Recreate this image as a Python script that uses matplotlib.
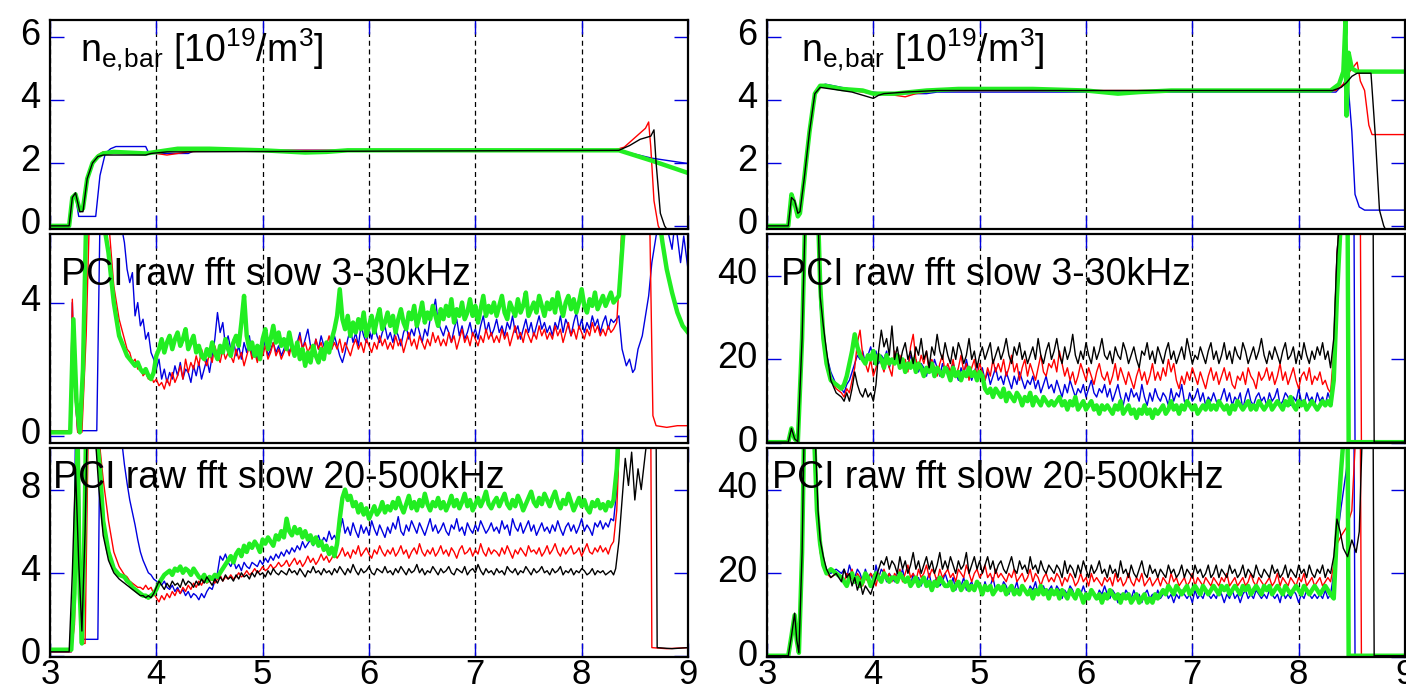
import numpy as np
import matplotlib.pyplot as plt
from matplotlib.transforms import ScaledTranslation

plt.rcParams['font.family'] = ['Liberation Sans', 'DejaVu Sans']
plt.rcParams['mathtext.fontset'] = 'custom'
plt.rcParams['mathtext.rm'] = 'Liberation Sans'
plt.rcParams['mathtext.it'] = 'Liberation Sans'

BLUE, RED, GREEN, BLACK = '#0000e0', '#ff0000', '#22ee22', '#000000'

# ---------------- top panels: line-averaged density (t, n) breakpoints
tl_blue = [(3.0, 0), (3.18, 0), (3.21, 0.9), (3.24, 0.95), (3.27, 0.3), (3.43, 0.3), (3.47, 1.6),
           (3.52, 2.3), (3.57, 2.45), (3.62, 2.52), (3.9, 2.52), (3.93, 2.3), (4.3, 2.3), (4.35, 2.38),
           (5.0, 2.4), (8.35, 2.4), (8.66, 2.15), (9.0, 1.98)]
tl_red = [(3.0, 0), (3.18, 0), (3.21, 0.9), (3.24, 1.0), (3.28, 0.45), (3.31, 0.5), (3.35, 1.5),
          (3.4, 2.0), (3.45, 2.25), (3.5, 2.35), (3.6, 2.35), (4.0, 2.3), (4.1, 2.25), (4.3, 2.35),
          (4.5, 2.4), (8.3, 2.4), (8.4, 2.5), (8.5, 2.8), (8.6, 3.1), (8.63, 3.3), (8.65, 2.5),
          (8.68, 0.8), (8.72, 0.0), (8.75, -0.2), (9.0, -0.3)]
tl_green = [(3.0, 0), (3.18, 0), (3.21, 0.9), (3.24, 1.0), (3.28, 0.5), (3.31, 0.55), (3.35, 1.5),
            (3.4, 2.0), (3.45, 2.2), (3.5, 2.3), (3.6, 2.35), (3.9, 2.3), (4.0, 2.35), (4.2, 2.45),
            (4.5, 2.45), (5.0, 2.4), (5.4, 2.33), (5.6, 2.35), (5.8, 2.4), (8.35, 2.4), (8.66, 2.07),
            (9.0, 1.68)]
tl_black = [(3.0, 0), (3.18, 0), (3.21, 0.9), (3.24, 1.05), (3.28, 0.45), (3.31, 0.45), (3.35, 1.5),
            (3.4, 2.0), (3.45, 2.2), (3.5, 2.25), (3.9, 2.25), (3.95, 2.3), (4.1, 2.35), (8.35, 2.4),
            (8.45, 2.55), (8.55, 2.75), (8.65, 2.85), (8.68, 3.05), (8.7, 2.0), (8.74, 0.4),
            (8.78, 0.0), (8.82, -0.2), (9.0, -0.3)]

tr_blue = [(3.0, 0), (3.2, 0), (3.23, 0.9), (3.26, 0.8), (3.29, 0.4), (3.31, 0.45), (3.35, 1.5),
           (3.4, 3.0), (3.45, 4.2), (3.5, 4.45), (3.55, 4.5), (3.7, 4.4), (3.85, 4.3), (4.0, 4.25),
           (4.1, 4.2), (4.5, 4.2), (4.6, 4.25), (8.35, 4.25), (8.42, 4.5), (8.46, 4.7), (8.5, 3.0),
           (8.53, 1.0), (8.57, 0.6), (8.62, 0.5), (9.0, 0.5)]
tr_red = [(3.0, 0), (3.2, 0), (3.23, 0.9), (3.26, 0.8), (3.29, 0.4), (3.31, 0.45), (3.35, 1.5),
          (3.4, 3.0), (3.45, 4.2), (3.5, 4.4), (3.6, 4.4), (3.8, 4.3), (4.0, 4.2), (4.2, 4.15),
          (4.3, 4.1), (4.4, 4.2), (4.6, 4.3), (8.35, 4.3), (8.42, 4.5), (8.48, 4.9), (8.55, 5.2),
          (8.58, 4.6), (8.62, 4.3), (8.66, 3.2), (8.69, 2.9), (9.0, 2.9)]
tr_green = [(3.0, 0), (3.2, 0), (3.23, 1.0), (3.26, 0.7), (3.29, 0.3), (3.31, 0.4), (3.35, 1.5),
            (3.4, 3.0), (3.45, 4.2), (3.5, 4.45), (3.55, 4.45), (3.7, 4.35), (3.9, 4.3), (4.0, 4.2),
            (4.2, 4.2), (4.5, 4.3), (4.8, 4.35), (5.5, 4.35), (6.0, 4.3), (6.3, 4.2), (6.5, 4.25),
            (6.8, 4.3), (8.3, 4.3), (8.38, 4.5), (8.42, 4.9), (8.44, 6.5), (8.45, 3.5), (8.47, 5.5),
            (8.5, 5.0), (8.55, 4.9), (9.0, 4.9)]
tr_black = [(3.0, 0), (3.2, 0), (3.23, 0.9), (3.26, 0.8), (3.29, 0.4), (3.31, 0.45), (3.35, 1.5),
            (3.4, 3.0), (3.45, 4.2), (3.5, 4.4), (3.6, 4.35), (3.7, 4.3), (3.8, 4.25), (3.9, 4.15),
            (4.0, 4.05), (4.05, 4.15), (4.1, 4.2), (4.3, 4.25), (4.6, 4.3), (8.32, 4.3), (8.4, 4.4),
            (8.45, 4.55), (8.5, 4.75), (8.55, 4.85), (8.68, 4.85), (8.72, 2.9), (8.76, 0.5),
            (8.8, 0.0), (8.83, -0.2), (9.0, -0.3)]

# ---------------- noisy PCI traces: head (t, v), body read every 0.025 from t=3.70, tail (t, v)
ml_blue_head = [(3.0, 0.15), (3.19, 0.15), (3.21, 4.0), (3.23, 1.5), (3.26, 0.15), (3.44, 0.15),
                (3.47, 6.5), (3.66, 6.5)]
ml_blue_body = [5.8, 5.0, 4.6, 4.9, 3.6, 4.0, 3.3, 3.5, 2.9, 3.1, 2.5, 2.3, 2.0, 2.3, 1.7, 2.0, 1.6, 1.9, 1.7, 2.1,
                1.8, 2.2, 1.7, 2.0, 1.9, 1.6, 2.1, 1.8, 2.2, 1.7, 2.0, 2.3, 1.9, 2.4, 2.9, 3.7, 3.1, 3.4, 2.7, 3.0,
                2.6, 2.9, 2.4, 2.7, 2.3, 2.8, 2.5, 3.0, 2.4, 2.6, 2.3, 2.7, 2.5, 2.9, 2.4, 2.6, 2.8, 2.5, 2.7, 2.4,
                2.6, 2.9, 2.5, 2.7, 2.4, 2.8, 3.1, 2.6, 2.9, 3.2, 2.7, 2.5, 2.9, 2.6, 3.0, 2.7, 2.5, 2.8, 2.6, 3.0,
                2.7, 2.4, 2.2, 2.5, 2.9, 3.2, 2.8, 3.1, 2.7, 3.3, 3.0, 2.8, 3.2, 2.9, 3.4, 3.0, 2.8, 3.1, 3.3, 2.9,
                3.1, 2.8, 3.2, 3.0, 2.7, 3.1, 3.3, 2.9, 3.2, 3.0, 3.4, 3.1, 2.8, 3.2, 3.0, 3.5, 3.7, 4.1, 3.4, 3.2,
                3.0, 3.3, 3.1, 2.8, 3.2, 3.5, 3.0, 3.3, 2.9, 3.1, 3.4, 3.0, 3.2, 2.9, 3.3, 3.6, 3.1, 3.4, 3.0, 3.2,
                3.5, 3.1, 3.3, 3.0, 3.4, 3.2, 3.6, 3.1, 3.3, 2.9, 3.2, 3.5, 3.1, 3.4, 3.0, 3.3, 3.6, 3.2, 3.4, 3.1,
                3.3, 3.0, 3.4, 3.2, 3.6, 3.1, 3.5, 3.3, 3.0, 3.4, 3.7, 3.2, 3.5, 3.1, 3.4, 3.2, 3.6, 3.3, 3.5, 3.1,
                3.4, 3.6, 3.2, 3.5, 3.4]
ml_blue_tail = [(8.35, 3.6), (8.38, 2.6), (8.42, 2.1), (8.45, 2.3), (8.48, 1.9), (8.5, 2.0),
                (8.53, 2.6), (8.57, 3.0), (8.6, 3.6), (8.63, 4.2), (8.66, 5.2), (8.7, 6.0),
                (8.73, 6.5), (8.8, 6.3), (8.85, 5.6), (8.88, 6.5), (8.93, 5.2), (8.96, 6.0), (9.0, 5.0)]

ml_red_head = [(3.0, 0.15), (3.19, 0.15), (3.21, 4.1), (3.23, 1.5), (3.26, 0.1), (3.3, 0.1),
               (3.34, 3.0), (3.37, 6.5), (3.55, 6.5), (3.6, 4.5), (3.65, 3.5)]
ml_red_body = [2.9, 2.6, 2.5, 2.2, 2.3, 2.0, 2.1, 1.8, 1.9, 1.7, 1.8, 1.6, 1.7, 1.5, 1.6, 1.4, 1.7, 1.5, 1.9, 1.6,
               1.8, 2.1, 1.7, 2.3, 1.9, 2.2, 2.0, 2.4, 2.1, 2.6, 2.3, 2.1, 2.5, 2.2, 2.7, 2.4, 2.2, 2.6, 2.3, 2.5,
               2.4, 2.2, 2.6, 2.3, 2.5, 2.1, 2.4, 2.7, 2.3, 2.5, 2.2, 2.6, 2.4, 2.7, 2.3, 2.5, 2.8, 2.4, 2.6, 2.3,
               2.5, 2.7, 2.4, 2.8, 2.5, 2.6, 3.0, 2.6, 2.8, 2.5, 2.7, 2.4, 2.9, 2.6, 2.8, 2.5, 2.7, 3.0, 2.6, 2.8,
               2.6, 2.9, 2.5, 2.8, 2.6, 2.4, 2.7, 2.9, 2.6, 2.8, 2.5, 2.9, 2.7, 2.5, 2.8, 2.6, 3.0, 2.7, 2.9, 2.6,
               2.8, 2.6, 3.0, 2.7, 2.9, 2.5, 2.8, 3.1, 2.7, 2.9, 2.6, 3.0, 2.8, 2.6, 2.9, 2.7, 3.1, 2.8, 3.0, 2.7,
               2.9, 2.7, 3.1, 2.8, 3.0, 2.6, 2.9, 3.2, 2.8, 3.0, 2.7, 3.1, 2.9, 2.7, 3.0, 2.8, 3.2, 2.9, 3.1, 2.8,
               3.0, 2.8, 3.2, 2.9, 3.1, 2.7, 3.0, 3.3, 2.9, 3.1, 2.8, 3.2, 3.0, 2.8, 3.1, 2.9, 3.3, 3.0, 3.2, 2.9,
               3.1, 2.9, 3.3, 3.0, 3.2, 2.8, 3.1, 3.4, 3.0, 3.2, 2.9, 3.3, 3.1, 2.9, 3.2, 3.0, 3.4, 3.1, 3.3, 3.0,
               3.2, 3.0, 3.3, 3.1, 3.2]
ml_red_tail = [(8.33, 3.4), (8.36, 5.0), (8.38, 6.5), (8.64, 6.5), (8.67, 0.6), (8.7, 0.3),
               (8.8, 0.25), (8.9, 0.3), (9.0, 0.3)]

ml_green_head = [(3.0, 0.1), (3.19, 0.1), (3.22, 3.5), (3.25, 1.0), (3.28, 0.1), (3.31, 2.0),
                 (3.34, 6.5), (3.5, 6.5), (3.55, 5.5), (3.6, 4.0), (3.65, 3.0)]
ml_green_body = [2.6, 2.4, 2.3, 2.2, 2.1, 2.2, 2.0, 1.9, 2.0, 1.8, 1.7, 1.9, 2.4, 2.6, 2.9, 2.5, 2.8, 3.0, 2.6, 2.9,
                 3.1, 2.7, 2.9, 3.2, 2.6, 2.8, 3.0, 2.5, 2.7, 2.4, 2.3, 2.6, 2.4, 2.8, 2.5, 2.3, 2.7, 2.5, 2.9, 2.6,
                 2.4, 2.8, 3.0, 2.7, 3.4, 4.2, 3.0, 2.6, 2.8, 2.4, 2.7, 2.3, 2.9, 3.2, 2.6, 2.9, 3.3, 2.8, 3.1, 2.7,
                 2.9, 2.6, 3.1, 2.7, 2.4, 2.8, 2.3, 2.6, 2.1, 2.5, 2.2, 2.7, 2.4, 2.2, 2.6, 2.3, 2.8, 2.5, 2.9, 3.2,
                 3.6, 4.4, 3.5, 3.2, 3.6, 3.0, 3.4, 3.1, 3.5, 3.2, 3.7, 3.0, 3.3, 3.6, 3.1, 3.5, 3.8, 3.2, 3.4, 3.7,
                 3.3, 3.6, 3.1, 3.5, 3.8, 3.4, 3.2, 3.7, 3.5, 3.9, 3.3, 3.6, 4.0, 3.4, 3.7, 3.5, 3.9, 3.6, 3.3, 3.8,
                 3.5, 3.9, 3.6, 4.1, 3.4, 3.8, 3.6, 4.0, 3.5, 3.7, 4.1, 3.6, 3.9, 3.4, 3.8, 4.2, 3.6, 3.9, 3.7, 4.0,
                 3.6, 3.9, 4.2, 3.7, 3.5, 4.0, 3.8, 3.6, 4.1, 3.7, 3.9, 4.3, 3.6, 3.8, 4.0, 3.7, 4.2, 3.9, 3.6, 4.0,
                 3.8, 4.1, 3.7, 4.3, 3.9, 3.6, 4.0, 4.2, 3.8, 4.1, 3.7, 4.0, 4.4, 3.9, 3.7, 4.1, 3.9, 4.3, 3.8, 4.0,
                 4.2, 3.9, 4.1, 4.3, 4.0]
ml_green_tail = [(8.35, 4.2), (8.39, 6.0), (8.42, 6.5), (8.73, 6.5), (8.76, 5.8), (8.8, 5.0),
                 (8.85, 4.3), (8.9, 3.7), (8.95, 3.3), (9.0, 3.1)]

mr_blue_head = [(3.0, 0.2), (3.2, 0.2), (3.23, 3.0), (3.26, 1.0), (3.29, 0.3), (3.33, 25), (3.36, 55),
                (3.48, 55), (3.5, 33), (3.53, 24), (3.56, 21), (3.6, 17), (3.65, 14)]
mr_blue_body = [13, 12, 14, 15, 17, 19, 21, 20, 22, 19, 21, 23, 20, 22, 19, 21, 20, 22, 18, 20,
                19, 21, 18, 20, 17, 19, 21, 18, 20, 17, 19, 18, 16, 19, 17, 20, 18, 16, 19, 17,
                18, 16, 19, 17, 15, 18, 16, 20, 17, 15, 17, 19, 16, 18, 15, 17, 14, 16, 18, 15,
                16, 14, 17, 15, 13, 16, 14, 17, 15, 13, 15, 14, 16, 13, 15, 12, 14, 16, 13, 14,
                12, 15, 13, 11, 14, 12, 15, 13, 11, 13, 12, 14, 11, 13, 15, 12, 11, 13, 12, 14,
                11, 13, 10, 12, 14, 11, 9, 12, 10, 13, 11, 12, 10, 14, 11, 9, 12, 10, 13, 11,
                10, 12, 11, 9, 13, 10, 12, 11, 14, 10, 9, 12, 10, 11, 13, 10, 12, 9, 11, 10,
                12, 10, 9, 11, 13, 10, 12, 9, 11, 10, 12, 8, 11, 13, 10, 9, 11, 12, 10, 11,
                9, 12, 10, 11, 13, 9, 10, 12, 11, 9, 11, 10, 13, 10, 9, 12, 10, 11, 9, 12,
                10, 11, 9, 12, 10]
mr_blue_tail = [(8.33, 20), (8.36, 45), (8.39, 55), (8.52, 55), (8.53, 0.2), (9.0, 0.2)]

mr_red_head = [(3.0, 0.2), (3.2, 0.2), (3.23, 3.0), (3.26, 1.0), (3.29, 0.3), (3.33, 25), (3.36, 55),
               (3.48, 55), (3.5, 35), (3.53, 26), (3.56, 20), (3.6, 15), (3.65, 13)]
mr_red_body = [12, 11, 13, 12, 15, 18, 24, 27, 21, 19, 17, 20, 16, 18, 21, 19, 17, 20, 18, 16,
               22, 19, 21, 18, 20, 17, 23, 26, 20, 18, 21, 19, 22, 17, 20, 18, 16, 19, 21, 17,
               19, 17, 20, 16, 18, 21, 17, 19, 15, 18, 20, 16, 19, 17, 15, 18, 16, 20, 17, 19,
               17, 20, 16, 18, 21, 17, 19, 15, 18, 20, 16, 19, 17, 15, 18, 21, 17, 16, 19, 18,
               20, 17, 22, 19, 16, 18, 15, 17, 14, 16, 19, 17, 15, 18, 16, 14, 17, 19, 16, 15,
               17, 14, 16, 19, 15, 18, 16, 14, 17, 15, 13, 16, 18, 15, 17, 14, 16, 19, 15, 17,
               15, 18, 16, 20, 17, 19, 15, 13, 16, 14, 17, 15, 18, 16, 14, 17, 15, 13, 16, 18,
               15, 17, 14, 16, 18, 15, 17, 14, 13, 16, 15, 17, 14, 18, 16, 15, 13, 17, 15, 16,
               18, 15, 17, 14, 16, 19, 15, 17, 14, 16, 18, 15, 13, 16, 17, 15, 18, 14, 16, 15,
               17, 14, 15, 13, 12]
mr_red_tail = [(8.33, 22), (8.36, 45), (8.39, 55), (8.58, 55), (8.59, 0.2), (9.0, 0.2)]

mr_green_head = [(3.0, 0.2), (3.2, 0.2), (3.23, 3.5), (3.26, 1.0), (3.29, 0.3), (3.33, 25), (3.36, 55),
                 (3.48, 55), (3.5, 38), (3.53, 25), (3.56, 19), (3.6, 15), (3.65, 14)]
mr_green_body = [13, 14, 16, 19, 22, 26, 23, 21, 20, 19, 21, 20, 22, 19, 21, 20, 18, 21, 19, 20,
                 19, 21, 18, 20, 17, 19, 18, 20, 17, 19, 18, 16, 18, 17, 19, 16, 18, 17, 16, 18,
                 17, 15, 18, 16, 17, 15, 17, 16, 18, 16, 17, 15, 17, 16, 13, 12, 13, 11, 13, 12,
                 11, 13, 10, 12, 11, 10, 12, 11, 9, 11, 10, 12, 9, 11, 10, 9, 11, 10, 9, 10,
                 9, 10, 11, 9, 10, 8, 10, 9, 11, 8, 9, 10, 8, 9, 10, 8, 9, 7, 9, 8,
                 9, 8, 7, 9, 8, 10, 7, 8, 9, 7, 8, 6, 8, 7, 9, 7, 8, 6, 8, 7,
                 8, 9, 7, 8, 10, 8, 9, 7, 9, 8, 10, 9, 8, 9, 7, 8, 9, 8, 10, 8,
                 9, 8, 10, 9, 8, 9, 7, 9, 8, 10, 9, 8, 9, 10, 8, 9, 8, 10, 9, 8,
                 9, 10, 8, 9, 10, 9, 8, 10, 9, 11, 9, 8, 10, 9, 10, 8, 9, 10, 9, 8,
                 9, 10, 9, 10, 9]
mr_green_tail = [(8.33, 15), (8.36, 35), (8.4, 55), (8.46, 55), (8.47, 0.2), (9.0, 0.2)]

mr_black_head = [(3.0, 0.2), (3.2, 0.2), (3.23, 3.5), (3.26, 1.0), (3.29, 0.3), (3.33, 25), (3.36, 55),
                 (3.48, 55), (3.5, 35), (3.53, 28), (3.56, 22), (3.6, 15), (3.65, 12)]
mr_black_body = [11, 10, 12, 10, 13, 17, 14, 12, 11, 13, 11, 12, 10, 14, 22, 27, 23, 25, 21, 28,
                 20, 23, 19, 22, 24, 20, 22, 19, 23, 21, 25, 20, 22, 18, 23, 21, 26, 22, 20, 24,
                 21, 19, 23, 20, 24, 22, 19, 21, 25, 20, 22, 18, 21, 23, 20, 22, 24, 19, 21, 23,
                 20, 22, 25, 21, 19, 23, 21, 24, 20, 22, 19, 21, 23, 20, 25, 21, 19, 22, 24, 20,
                 22, 25, 21, 19, 23, 20, 22, 26, 21, 19, 22, 20, 24, 21, 19, 23, 20, 22, 25, 21,
                 20, 22, 19, 23, 21, 20, 24, 22, 19, 21, 23, 20, 18, 22, 21, 24, 20, 22, 19, 23,
                 21, 19, 22, 24, 20, 22, 19, 21, 23, 20, 25, 22, 19, 21, 20, 23, 21, 19, 22, 24,
                 20, 22, 19, 21, 24, 20, 22, 19, 23, 21, 20, 24, 22, 19, 21, 23, 20, 22, 25, 21,
                 19, 22, 20, 23, 21, 19, 22, 24, 20, 21, 23, 19, 22, 20, 24, 21, 19, 22, 20, 23,
                 21, 24, 20, 22, 18]
mr_black_tail = [(8.33, 25), (8.36, 45), (8.39, 55), (8.7, 55), (8.71, 0.2), (9.0, 0.2)]

bl_blue_head = [(3.0, 0.2), (3.2, 0.2), (3.22, 2.0), (3.24, 11), (3.27, 11), (3.29, 0.8), (3.45, 0.8),
                (3.47, 11), (3.66, 11)]
bl_blue_body = [9.2, 8.3, 7.5, 6.9, 6.3, 5.6, 5.0, 4.6, 4.3, 4.0, 3.9, 3.7, 3.6, 3.5, 3.4, 3.6, 3.3, 3.2, 3.4, 3.1,
                3.3, 3.0, 3.2, 2.9, 3.1, 2.8, 3.0, 2.9, 2.7, 3.0, 2.8, 3.1, 3.3, 3.2, 3.6, 4.0, 4.8, 4.6, 4.9, 4.5,
                4.3, 4.6, 4.2, 4.4, 4.1, 4.5, 4.3, 4.2, 4.5, 4.4, 4.3, 4.6, 4.4, 4.7, 4.5, 4.8, 4.6, 4.9, 4.7, 5.0,
                4.8, 5.1, 4.9, 5.2, 5.0, 5.3, 5.1, 5.5, 5.2, 5.4, 5.6, 5.3, 5.5, 5.8, 5.4, 5.7, 5.5, 6.0, 5.6, 5.8,
                5.5, 6.0, 6.6, 5.9, 6.2, 5.8, 6.4, 6.0, 5.7, 6.3, 5.9, 6.2, 5.8, 6.5, 6.1, 5.8, 6.3, 6.0, 5.7, 6.2,
                5.9, 6.4, 6.1, 6.7, 6.0, 5.8, 6.3, 6.0, 6.5, 6.2, 5.9, 6.4, 6.1, 5.8, 6.2, 6.6, 6.0, 6.3, 5.9, 6.1,
                6.4, 6.0, 5.8, 6.3, 6.1, 6.6, 6.0, 6.2, 5.8, 6.4, 6.1, 5.9, 6.3, 6.0, 6.5, 6.2, 5.9, 6.1, 6.4, 6.0,
                6.2, 5.9, 6.5, 6.1, 6.3, 5.8, 6.6, 6.2, 6.0, 6.4, 5.9, 6.2, 6.5, 6.0, 6.3, 5.8, 6.1, 6.4, 6.0, 6.2,
                5.9, 6.3, 6.0, 6.5, 6.1, 5.8, 6.2, 6.4, 6.0, 6.3, 5.9, 6.2, 6.6, 6.0, 6.3, 6.1, 5.8, 6.4, 6.2, 6.5,
                6.1, 6.4, 6.2, 6.6, 6.5]
bl_blue_tail = [(8.33, 8.0), (8.36, 11), (9.0, 11)]

bl_red_head = [(3.0, 0.2), (3.2, 0.2), (3.23, 1.5), (3.26, 8.0), (3.28, 3.0), (3.3, 0.6), (3.33, 0.6),
               (3.36, 11), (3.45, 11), (3.5, 8.5), (3.55, 6.5), (3.6, 5.0), (3.65, 4.3)]
bl_red_body = [3.9, 3.8, 3.6, 3.5, 3.4, 3.3, 3.3, 3.2, 3.4, 3.2, 3.3, 3.0, 2.8, 2.6, 2.9, 2.7, 3.0, 2.8, 3.1, 2.9,
               3.2, 3.0, 3.3, 3.1, 3.4, 3.2, 3.5, 3.3, 3.6, 3.4, 3.7, 3.5, 3.6, 3.8, 3.5, 3.7, 3.9, 3.6, 3.8, 3.7,
               3.9, 3.7, 3.8, 4.0, 3.8, 3.9, 4.1, 3.9, 4.0, 4.2, 4.0, 4.1, 4.3, 4.1, 4.2, 4.4, 4.2, 4.3, 4.5, 4.3,
               4.4, 4.6, 4.3, 4.5, 4.7, 4.4, 4.6, 4.3, 4.5, 4.8, 4.5, 4.7, 4.4, 4.6, 4.9, 4.6, 4.8, 4.5, 4.7, 5.0,
               4.7, 4.9, 5.2, 4.8, 5.0, 4.7, 5.1, 4.9, 5.3, 4.8, 5.0, 5.2, 4.9, 4.7, 5.1, 4.9, 5.3, 5.0, 4.8, 5.1,
               4.9, 5.2, 4.8, 5.0, 5.3, 4.9, 5.1, 4.7, 5.0, 5.2, 4.9, 5.4, 5.0, 4.8, 5.1, 4.9, 5.2, 4.8, 5.0, 5.3,
               4.9, 5.1, 4.8, 5.2, 5.0, 4.7, 5.1, 5.3, 4.9, 5.0, 5.2, 4.8, 5.1, 4.9, 5.4, 5.0, 4.8, 5.2, 4.9, 5.1,
               5.0, 4.8, 5.2, 4.9, 5.3, 5.0, 4.7, 5.1, 4.9, 5.2, 5.0, 4.8, 5.3, 5.0, 5.1, 4.9, 5.2, 4.8, 5.0, 5.3,
               4.9, 5.1, 5.4, 5.0, 4.8, 5.2, 4.9, 5.1, 5.3, 4.9, 5.0, 5.2, 4.8, 5.1, 5.4, 5.0, 4.9, 5.2, 5.0, 5.3,
               5.0, 5.2, 4.9, 5.3, 5.5]
bl_red_tail = [(8.33, 7.0), (8.36, 11), (8.65, 11), (8.66, 0.4), (8.8, 0.35), (9.0, 0.4)]

bl_green_head = [(3.0, 0.3), (3.2, 0.3), (3.23, 3.0), (3.26, 10.5), (3.28, 3.0), (3.3, 0.6), (3.32, 5.0),
                 (3.34, 11), (3.43, 11), (3.47, 9.0), (3.5, 6.5), (3.55, 5.0), (3.6, 4.2), (3.65, 3.9)]
bl_green_body = [3.8, 3.6, 3.5, 3.3, 3.2, 3.1, 3.0, 2.9, 2.9, 2.8, 2.9, 3.0, 3.2, 3.5, 3.7, 3.9, 4.0, 4.1, 3.9, 4.2,
                 4.1, 4.3, 4.0, 4.2, 4.1, 3.9, 4.2, 4.0, 3.8, 3.7, 3.9, 3.6, 3.8, 3.7, 3.9, 3.8, 4.0, 4.2, 4.4, 4.6,
                 4.8, 4.5, 4.9, 5.1, 4.8, 5.3, 5.0, 5.4, 5.2, 5.5, 5.3, 5.0, 5.6, 5.4, 5.7, 5.5, 5.3, 5.8, 5.6, 6.0,
                 5.7, 6.6, 6.0, 5.8, 6.2, 5.9, 6.1, 5.7, 6.0, 5.6, 5.8, 5.4, 5.7, 5.3, 5.5, 5.1, 5.3, 4.9, 5.2, 4.8,
                 5.4, 6.6, 7.6, 8.0, 7.5, 7.7, 7.2, 7.4, 6.9, 7.3, 6.8, 7.1, 6.6, 6.9, 7.2, 6.8, 7.0, 7.4, 6.9, 7.2,
                 7.0, 7.4, 7.1, 7.6, 7.2, 6.9, 7.3, 7.7, 7.1, 7.4, 7.0, 7.5, 7.2, 7.8, 7.3, 7.0, 7.4, 7.2, 7.6, 7.1,
                 7.4, 7.0, 7.3, 7.7, 7.2, 7.5, 7.1, 7.4, 7.8, 7.2, 7.5, 7.0, 7.3, 7.6, 7.2, 7.5, 7.9, 7.3, 7.1, 7.4,
                 7.6, 7.2, 7.5, 7.8, 7.3, 7.1, 7.5, 7.2, 7.7, 7.4, 7.0, 7.3, 7.6, 7.9, 7.4, 7.2, 7.6, 7.3, 7.8, 7.5,
                 7.2, 7.6, 7.9, 7.4, 7.1, 7.5, 7.3, 7.8, 7.4, 7.0, 7.3, 7.6, 7.2, 7.5, 7.1, 6.9, 7.4, 7.2, 7.5, 7.1,
                 7.3, 7.0, 7.4, 7.2, 7.5]
bl_green_tail = [(8.33, 9.0), (8.35, 11), (9.0, 11)]

bl_black_head = [(3.0, 0.2), (3.18, 0.2), (3.21, 4.0), (3.24, 9.0), (3.27, 4.5), (3.3, 1.2), (3.33, 6.0),
                 (3.35, 11), (3.42, 11), (3.46, 8.0), (3.5, 5.8), (3.55, 4.6), (3.6, 4.0), (3.65, 3.7)]
bl_black_body = [3.5, 3.4, 3.3, 3.2, 3.1, 3.0, 2.9, 2.9, 2.8, 2.9, 2.8, 3.0, 3.3, 3.6, 3.4, 3.2, 3.5, 3.3, 3.6, 3.4,
                 3.5, 3.3, 3.7, 3.4, 3.6, 3.5, 3.3, 3.6, 3.4, 3.7, 3.5, 3.8, 3.6, 3.4, 3.7, 3.5, 3.8, 3.6, 3.9, 3.7,
                 3.8, 3.6, 3.9, 3.7, 4.0, 3.8, 3.9, 3.7, 4.0, 3.8, 4.1, 3.9, 4.0, 3.8, 4.1, 3.9, 4.2, 4.0, 3.9, 4.1,
                 4.0, 3.9, 4.2, 4.0, 4.1, 3.9, 4.2, 4.0, 3.8, 4.1, 4.0, 4.3, 4.0, 4.1, 3.9, 4.2, 4.0, 4.1, 3.9, 4.2,
                 4.0, 4.3, 4.1, 3.9, 4.2, 4.0, 4.4, 4.1, 3.9, 4.2, 4.0, 4.1, 4.3, 4.0, 3.9, 4.2, 4.1, 4.0, 4.3, 4.0,
                 4.1, 3.9, 4.2, 4.0, 4.3, 4.1, 3.9, 4.2, 4.0, 4.1, 4.4, 4.0, 4.2, 3.9, 4.1, 4.0, 4.3, 4.1, 3.9, 4.2,
                 4.0, 4.1, 4.3, 4.0, 3.9, 4.2, 4.1, 4.0, 4.3, 3.9, 4.1, 4.2, 4.0, 4.4, 4.1, 3.9, 4.2, 4.0, 4.1, 3.9,
                 4.2, 4.0, 4.1, 3.9, 4.3, 4.1, 4.0, 4.2, 3.9, 4.1, 4.0, 4.3, 4.1, 3.9, 4.2, 4.0, 4.1, 4.3, 4.0, 4.1,
                 3.9, 4.2, 4.0, 4.1, 4.3, 3.9, 4.1, 4.0, 4.2, 3.9, 4.1, 4.0, 4.2, 4.1, 3.9, 4.0, 4.2, 3.9, 4.1, 4.0,
                 4.1, 3.9, 4.0, 4.1, 3.9]
bl_black_tail = [(8.32, 4.2), (8.35, 5.5), (8.38, 7.5), (8.41, 9.5), (8.44, 8.2), (8.47, 9.8),
                 (8.5, 7.5), (8.53, 9.0), (8.56, 8.0), (8.6, 9.8), (8.63, 11), (8.7, 11), (8.71, 0.4),
                 (8.85, 0.35), (9.0, 0.4)]

br_blue_head = [(3.0, 0.3), (3.2, 0.3), (3.23, 4), (3.26, 8), (3.28, 4), (3.3, 1), (3.33, 25), (3.35, 55),
                (3.45, 55), (3.48, 33), (3.5, 26), (3.53, 23), (3.56, 21), (3.6, 20), (3.65, 21)]
br_blue_body = [20, 21, 19, 22, 20, 19, 21, 20, 18, 21, 19, 20, 18, 22, 19, 21, 20, 18, 20, 19,
                18, 20, 19, 21, 18, 19, 17, 20, 18, 19, 17, 19, 18, 20, 17, 18, 19, 17, 18, 20,
                18, 17, 19, 16, 18, 17, 19, 16, 17, 18, 16, 18, 17, 15, 18, 16, 17, 19, 16, 17,
                16, 18, 17, 15, 17, 16, 18, 15, 17, 16, 15, 17, 16, 18, 15, 16, 17, 15, 16, 17,
                15, 17, 16, 14, 16, 15, 17, 16, 14, 16, 15, 17, 15, 14, 16, 15, 14, 16, 15, 17,
                15, 14, 16, 15, 13, 15, 14, 16, 15, 14, 16, 14, 15, 13, 15, 16, 14, 15, 14, 16,
                14, 15, 16, 14, 15, 13, 15, 14, 16, 15, 14, 15, 13, 16, 14, 15, 14, 16, 15, 14,
                15, 14, 16, 15, 13, 15, 14, 16, 14, 15, 13, 15, 16, 14, 15, 14, 16, 15, 14, 15,
                14, 16, 15, 14, 15, 13, 16, 14, 15, 14, 16, 15, 13, 15, 14, 16, 15, 14, 15, 14,
                15, 14, 16, 14, 15]
br_blue_tail = [(8.33, 20), (8.36, 28), (8.4, 36), (8.45, 45), (8.48, 55), (8.52, 55), (8.53, 0.3),
                (9.0, 0.3)]

br_red_head = [(3.0, 0.3), (3.2, 0.3), (3.23, 4), (3.26, 8), (3.28, 4), (3.3, 1), (3.33, 25), (3.35, 55),
               (3.45, 55), (3.48, 32), (3.5, 25), (3.53, 22), (3.56, 20), (3.6, 19), (3.65, 20)]
br_red_body = [19, 18, 20, 19, 21, 18, 20, 19, 17, 19, 18, 20, 19, 17, 20, 18, 21, 19, 20, 18,
               20, 19, 21, 18, 20, 22, 19, 20, 18, 21, 19, 20, 22, 19, 21, 20, 18, 21, 19, 20,
               21, 19, 20, 18, 21, 20, 19, 22, 20, 18, 20, 21, 19, 20, 22, 19, 20, 18, 21, 19,
               20, 19, 18, 20, 19, 21, 18, 19, 20, 18, 19, 21, 18, 20, 19, 17, 19, 20, 18, 19,
               18, 20, 19, 17, 19, 18, 20, 19, 17, 18, 20, 18, 19, 17, 20, 18, 19, 18, 17, 19,
               18, 19, 17, 20, 18, 19, 17, 18, 20, 18, 17, 19, 18, 20, 17, 18, 19, 17, 18, 19,
               17, 19, 18, 17, 20, 18, 19, 17, 18, 19, 17, 18, 20, 17, 19, 18, 17, 19, 18, 17,
               19, 18, 17, 19, 18, 20, 17, 18, 19, 17, 18, 19, 17, 18, 20, 18, 17, 19, 18, 17,
               18, 19, 17, 18, 20, 17, 19, 18, 17, 19, 18, 17, 19, 18, 20, 17, 18, 19, 17, 18,
               19, 17, 18, 19, 18]
br_red_tail = [(8.33, 22), (8.36, 27), (8.4, 29), (8.45, 31), (8.5, 35), (8.54, 55), (8.58, 55),
               (8.59, 0.3), (9.0, 0.3)]

br_green_head = [(3.0, 0.3), (3.2, 0.3), (3.23, 5), (3.26, 10), (3.28, 4), (3.3, 1), (3.33, 25), (3.35, 55),
                 (3.44, 55), (3.47, 35), (3.5, 27), (3.53, 22), (3.56, 20), (3.6, 21), (3.65, 20)]
br_green_body = [19, 18, 17, 19, 20, 18, 19, 17, 18, 20, 19, 17, 18, 20, 19, 18, 20, 19, 18, 19,
                 19, 18, 20, 19, 18, 19, 17, 18, 19, 17, 18, 19, 17, 18, 16, 18, 17, 19, 18, 17,
                 17, 18, 16, 17, 18, 16, 17, 18, 16, 17, 16, 18, 17, 15, 17, 16, 17, 15, 16, 17,
                 16, 17, 15, 16, 17, 15, 16, 15, 17, 16, 15, 16, 14, 16, 15, 17, 15, 16, 14, 16,
                 15, 16, 14, 16, 15, 14, 16, 15, 14, 16, 15, 13, 15, 14, 16, 15, 14, 15, 13, 15,
                 14, 16, 15, 14, 15, 13, 15, 14, 15, 13, 14, 15, 13, 14, 15, 13, 14, 13, 15, 14,
                 15, 16, 15, 17, 16, 15, 17, 16, 15, 16, 17, 15, 16, 17, 16, 15, 17, 16, 15, 16,
                 17, 16, 15, 17, 16, 17, 15, 16, 17, 16, 15, 17, 16, 17, 15, 16, 17, 16, 15, 17,
                 16, 17, 15, 16, 17, 16, 15, 17, 16, 15, 16, 17, 16, 15, 17, 16, 15, 16, 17, 16,
                 15, 16, 17, 16, 15]
br_green_tail = [(8.33, 14), (8.36, 30), (8.4, 45), (8.43, 55), (8.46, 55), (8.47, 0.3), (9.0, 0.3)]

br_black_head = [(3.0, 0.3), (3.2, 0.3), (3.23, 5), (3.26, 10.5), (3.28, 4), (3.3, 1), (3.33, 25),
                 (3.35, 55), (3.45, 55), (3.48, 35), (3.5, 28), (3.53, 24), (3.56, 21), (3.6, 19),
                 (3.65, 20)]
br_black_body = [18, 21, 19, 20, 17, 19, 16, 18, 15, 17, 16, 15, 17, 19, 21, 23, 22, 24, 21, 23,
                 22, 20, 24, 21, 23, 20, 22, 25, 21, 23, 20, 22, 24, 21, 23, 20, 22, 25, 21, 23,
                 21, 24, 22, 20, 23, 21, 22, 25, 20, 22, 24, 21, 23, 20, 22, 24, 21, 23, 20, 22,
                 23, 21, 20, 22, 24, 21, 20, 23, 21, 22, 20, 24, 21, 22, 20, 23, 21, 20, 22, 21,
                 20, 22, 21, 19, 23, 20, 22, 21, 19, 22, 20, 23, 21, 19, 22, 20, 21, 23, 20, 21,
                 19, 22, 20, 21, 19, 23, 20, 21, 19, 22, 20, 19, 21, 23, 20, 19, 22, 20, 21, 19,
                 21, 20, 19, 22, 20, 21, 19, 20, 22, 19, 21, 20, 19, 22, 20, 21, 19, 20, 22, 19,
                 20, 22, 19, 21, 20, 19, 22, 20, 21, 19, 20, 22, 19, 21, 20, 19, 22, 20, 19, 21,
                 20, 19, 22, 20, 21, 19, 20, 22, 19, 21, 20, 19, 22, 20, 21, 19, 22, 20, 19, 21,
                 20, 22, 19, 21, 20]
br_black_tail = [(8.33, 24), (8.36, 33), (8.39, 30), (8.42, 26), (8.46, 24), (8.5, 28), (8.54, 25),
                 (8.57, 30), (8.6, 55), (8.7, 55), (8.71, 0.3), (9.0, 0.3)]


def pairs(p):
    t, v = zip(*p)
    return np.array(t), np.array(v)


def trace(head, body, tail, t0=3.7, dt=0.025):
    th, vh = pairs(head)
    tt, vt = pairs(tail)
    tb = t0 + dt * np.arange(len(body))
    return np.concatenate([th, tb, tt]), np.concatenate([vh, body, vt])


W, H = 1406, 692
fig = plt.figure(figsize=(W / 100, H / 100), dpi=100)

col_x = [50, 767]
row_y = [(20, 229), (234, 443), (448, 657)]
ylims = [[(-0.1, 6.54), (-0.22, 6.06), (-0.05, 10)],
         [(-0.1, 6.54), (0, 50), (0, 50)]]
yticks = [[[0, 2, 4, 6], [0, 4], [0, 4, 8]],
          [[0, 2, 4, 6], [0, 20, 40], [0, 20, 40]]]

thin, thick = 1.0, 3.2
series = {
    (0, 0): [(pairs(tl_blue), BLUE, thin), (pairs(tl_red), RED, thin),
             (pairs(tl_green), GREEN, thick), (pairs(tl_black), BLACK, thin)],
    (1, 0): [(pairs(tr_blue), BLUE, thin), (pairs(tr_red), RED, thin),
             (pairs(tr_green), GREEN, thick), (pairs(tr_black), BLACK, thin)],
    (0, 1): [(trace(ml_blue_head, ml_blue_body, ml_blue_tail), BLUE, thin),
             (trace(ml_red_head, ml_red_body, ml_red_tail), RED, thin),
             (trace(ml_green_head, ml_green_body, ml_green_tail), GREEN, thick)],
    (1, 1): [(trace(mr_blue_head, mr_blue_body, mr_blue_tail), BLUE, thin),
             (trace(mr_red_head, mr_red_body, mr_red_tail), RED, thin),
             (trace(mr_green_head, mr_green_body, mr_green_tail), GREEN, thick),
             (trace(mr_black_head, mr_black_body, mr_black_tail), BLACK, thin)],
    (0, 2): [(trace(bl_blue_head, bl_blue_body, bl_blue_tail), BLUE, thin),
             (trace(bl_red_head, bl_red_body, bl_red_tail), RED, thin),
             (trace(bl_green_head, bl_green_body, bl_green_tail), GREEN, thick),
             (trace(bl_black_head, bl_black_body, bl_black_tail), BLACK, thin)],
    (1, 2): [(trace(br_blue_head, br_blue_body, br_blue_tail), BLUE, thin),
             (trace(br_red_head, br_red_body, br_red_tail), RED, thin),
             (trace(br_green_head, br_green_body, br_green_tail), GREEN, thick),
             (trace(br_black_head, br_black_body, br_black_tail), BLACK, thin)],
}

ne_label = r'n$_{\mathrm{e},\!\mathrm{bar}}$ [10$^{19}$/m$^{3}$]'
labels = {
    (0, 0): (0.047, 0.80, ne_label),
    (1, 0): (0.053, 0.80, ne_label),
    (0, 1): (0.018, 0.755, 'PCI raw fft slow 3-30kHz'),
    (1, 1): (0.022, 0.755, 'PCI raw fft slow 3-30kHz'),
    (0, 2): (0.005, 0.81, 'PCI raw fft slow 20-500kHz'),
    (1, 2): (0.008, 0.81, 'PCI raw fft slow 20-500kHz'),
}

lift = ScaledTranslation(0, 5 / 100, fig.dpi_scale_trans)
for c in range(2):
    for r in range(3):
        y0, y1 = row_y[r]
        ax = fig.add_axes([col_x[c] / W, 1 - y1 / H, 638 / W, (y1 - y0) / H])
        for (t, v), color, lw in series[(c, r)]:
            ax.plot(t, v, color=color, lw=lw)
        ax.set_xlim(3, 9)
        ax.set_ylim(*ylims[c][r])
        ax.set_xticks([3, 4, 5, 6, 7, 8, 9])
        ax.set_yticks(yticks[c][r])
        ax.set_axisbelow(True)
        ax.xaxis.grid(True, color='k', linestyle=(0, (4, 3)), linewidth=0.9)
        ax.tick_params(direction='in', length=10, width=1.0, color=BLUE,
                       top=True, right=True)
        ax.tick_params(axis='y', labelsize=26, pad=7)
        ax.tick_params(axis='x', labelsize=25, pad=1)
        if r < 2:
            ax.tick_params(labelbottom=False)
        for s in ax.spines.values():
            s.set_linewidth(1.6)
        for lab in ax.get_yticklabels():
            lab.set_transform(lab.get_transform() + lift)
        x, y, s = labels[(c, r)]
        ax.text(x, y, s, transform=ax.transAxes, fontsize=27, va='baseline', ha='left')

fig.savefig('out.png', dpi=100)
